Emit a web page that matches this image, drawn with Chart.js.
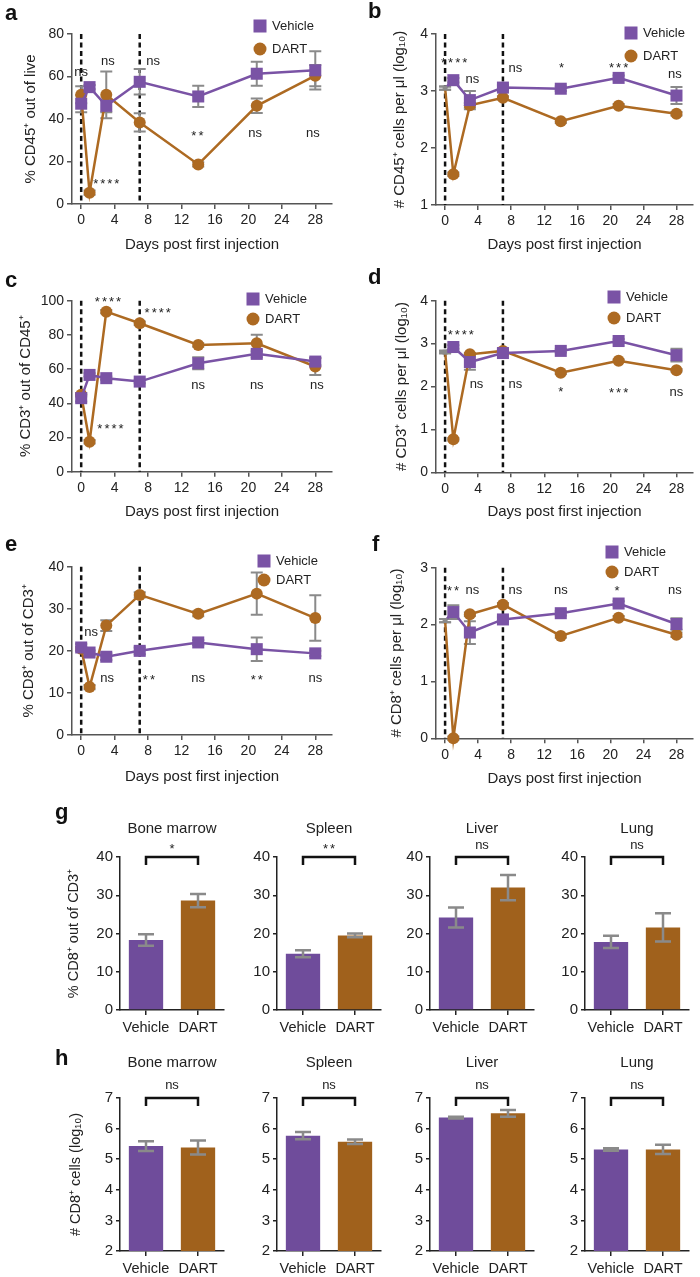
<!DOCTYPE html>
<html>
<head>
<meta charset="utf-8">
<script src="https://cdn.jsdelivr.net/npm/chart.js@4.4.0/dist/chart.umd.min.js"></script>
<style>
  body { margin: 0; background: #fff; }
  #fig { position: relative; width: 700px; height: 1277px; overflow: hidden; font-family: 'Liberation Sans', Arial, sans-serif; }
  #fig canvas { position: absolute; }
  .lbl { position: absolute; font-weight: bold; font-size: 22px; line-height: 22px; color: #111; z-index: 5; }
</style>
</head>
<body>
<div id="fig"></div>
<script>
Chart.defaults.font.family = "'Liberation Sans', Arial, Helvetica, sans-serif";
Chart.defaults.color = '#222';

// ---- time course data (a-f) ----
const days = [0, 1, 3, 7, 14, 21, 28];
const dayTicks = [0, 4, 8, 12, 16, 20, 24, 28];
const injectionDays = [0, 7];

const aVehicle = [47.2, 55.0, 46.2, 57.5, 50.6, 61.3, 62.9];
const aVehicleErr = [4, 1, 3, 6, 5, 5.7, 9];
const aDart = [51.4, 5.3, 51.4, 38.4, 18.6, 46.2, 60.4];
const aDartErr = [4, 1, 11, 4.3, 1, 3.4, 5];
const aTicks = [0, 20, 40, 60, 80];
const aSig = [[0, 61.3, 'ns'], [3.0, 10.8, '****'], [3.2, 66.8, 'ns'], [8.6, 66.8, 'ns'], [13.9, 33.3, '**'], [20.8, 32.9, 'ns'], [27.7, 32.9, 'ns']];

const bVehicle = [3.05, 3.19, 2.84, 3.06, 3.04, 3.23, 2.92];
const bVehicleErr = [0.03, 0.04, 0.16, 0.04, 0.04, 0.04, 0.15];
const bDart = [3.05, 1.54, 2.75, 2.88, 2.47, 2.74, 2.60];
const bDartErr = [0.03, 0.03, 0.04, 0.03, 0.03, 0.03, 0.03];
const bTicks = [1, 2, 3, 4];
const bSig = [[1.1, 3.53, '****'], [3.3, 3.18, 'ns'], [8.5, 3.38, 'ns'], [14.1, 3.44, '*'], [21, 3.44, '***'], [27.8, 3.27, 'ns']];

const cVehicle = [43, 56.6, 54.7, 52.7, 63.4, 68.9, 64.4];
const cVehicleErr = [2, 1, 1, 1, 3.5, 2, 2];
const cDart = [45, 17.5, 93.6, 86.8, 74.1, 75.1, 61.5];
const cDartErr = [1, 1, 1, 1, 1, 5, 5];
const cTicks = [0, 20, 40, 60, 80, 100];
const cSig = [[3.2, 100.8, '****'], [9.15, 94.6, '****'], [3.5, 26.3, '****'], [14, 49.7, 'ns'], [21, 49.7, 'ns'], [28.2, 49.7, 'ns']];

const dVehicle = [2.80, 2.92, 2.57, 2.78, 2.83, 3.06, 2.73];
const dVehicleErr = [0.03, 0.04, 0.18, 0.04, 0.04, 0.04, 0.15];
const dDart = [2.81, 0.77, 2.75, 2.83, 2.32, 2.60, 2.38];
const dDartErr = [0.03, 0.03, 0.03, 0.03, 0.03, 0.03, 0.03];
const dTicks = [0, 1, 2, 3, 4];
const dSig = [[1.9, 3.27, '****'], [3.8, 2.03, 'ns'], [8.5, 2.03, 'ns'], [14, 1.93, '*'], [21, 1.9, '***'], [28, 1.85, 'ns']];

const eVehicle = [20.8, 19.6, 18.6, 20.0, 22.0, 20.4, 19.4];
const eVehicleErr = [0.8, 0.5, 0.8, 0.8, 0.6, 2.8, 0.6];
const eDart = [20.5, 11.4, 26.0, 33.3, 28.8, 33.6, 27.8];
const eDartErr = [0.5, 0.5, 1.3, 0.6, 0.6, 5, 5.4];
const eTicks = [0, 10, 20, 30, 40];
const eSig = [[1.2, 24.2, 'ns'], [3.1, 13.1, 'ns'], [8.1, 13.8, '**'], [14, 13.1, 'ns'], [21, 13.8, '**'], [28, 13.1, 'ns']];

const fVehicle = [2.07, 2.22, 1.86, 2.09, 2.20, 2.37, 2.01];
const fVehicleErr = [0.03, 0.12, 0.2, 0.04, 0.04, 0.04, 0.1];
const fDart = [2.07, 0.0, 2.18, 2.35, 1.80, 2.12, 1.82];
const fDartErr = [0.03, 0.03, 0.03, 0.03, 0.03, 0.03, 0.04];
const fTicks = [0, 1, 2, 3];
const fSig = [[0.95, 2.64, '**'], [3.3, 2.59, 'ns'], [8.5, 2.59, 'ns'], [14, 2.59, 'ns'], [20.8, 2.64, '*'], [27.8, 2.59, 'ns']];

// ---- tissue data (g, h) ----
const tissues = ['Bone marrow', 'Spleen', 'Liver', 'Lung'];
const groups = ['Vehicle', 'DART'];
const gVehicle = [18.3, 14.7, 24.2, 17.8];
const gVehicleErr = [1.5, 0.9, 2.6, 1.6];
const gDart = [28.6, 19.5, 32.0, 21.6];
const gDartErr = [1.75, 0.5, 3.3, 3.7];
const gSig = ['*', '**', 'ns', 'ns'];
const gTicks = [0, 10, 20, 30, 40];
const hVehicle = [5.43, 5.77, 6.36, 5.32];
const hVehicleErr = [0.16, 0.12, 0.03, 0.04];
const hDart = [5.38, 5.57, 6.50, 5.32];
const hDartErr = [0.23, 0.07, 0.11, 0.15];
const hSig = ['ns', 'ns', 'ns', 'ns'];
const hTicks = [2, 3, 4, 5, 6, 7];

// colours
const PURPLE = '#7a53a5', BROWN = '#ad6a22';
const PURPLE_BAR = '#6f4c9b', BROWN_BAR = '#a0611c';
const ERR = '#8a8a8a', AXIS = '#555', BAR_AXIS = '#222';

const fig = document.getElementById('fig');

function addCanvas(b) {
  const c = document.createElement('canvas');
  c.width = b.w; c.height = b.h;
  c.style.left = b.x + 'px'; c.style.top = b.y + 'px';
  c.style.width = b.w + 'px'; c.style.height = b.h + 'px';
  fig.appendChild(c);
  return c;
}

function addLabel(txt, x, y) {
  const d = document.createElement('div');
  d.className = 'lbl';
  d.textContent = txt;
  d.style.left = x + 'px'; d.style.top = y + 'px';
  fig.appendChild(d);
}

function errBar(ctx, px, yScale, v, e, cap) {
  if (e == null) return;
  const t = yScale.getPixelForValue(v + e), b = yScale.getPixelForValue(v - e);
  ctx.beginPath();
  ctx.moveTo(px, t); ctx.lineTo(px, b);
  ctx.moveTo(px - cap, t); ctx.lineTo(px + cap, t);
  ctx.moveTo(px - cap, b); ctx.lineTo(px + cap, b);
  ctx.stroke();
}

function sigText(ctx, txt, x, y, size) {
  const stars = txt.indexOf('*') >= 0;
  ctx.font = size + "px 'Liberation Sans', Arial, sans-serif";
  ctx.letterSpacing = stars ? '2px' : '0px';
  ctx.textAlign = 'center';
  ctx.textBaseline = 'middle';
  ctx.fillStyle = '#222';
  ctx.fillText(txt, x + (stars ? 1 : 0), y + (stars ? 3 : -1));
  ctx.letterSpacing = '0px';
}

function axisBase(color, size) {
  return {
    grid: { drawOnChartArea: false, drawTicks: true, tickLength: 5, color: color, lineWidth: 1.5 },
    border: { display: true, color: color, width: 1.5 },
    ticks: { color: '#222', font: { size: size }, padding: 3, maxRotation: 0, autoSkip: false }
  };
}

// ---- line panels ----
const panels = [
  { letter: 'a', lx: 5, ly: 2, box: { x: 0, y: 0, w: 350, h: 260 }, area: { l: 72, t: 34, r: 332, b: 204 },
    veh: aVehicle, vehErr: aVehicleErr, dart: aDart, dartErr: aDartErr, ticks: aTicks, sig: aSig,
    yTitle: '% CD45⁺ out of live', yTitleX: 31, leg: [260, 26, 49], grayStart: false },
  { letter: 'b', lx: 368, ly: 0, box: { x: 350, y: 0, w: 350, h: 260 }, area: { l: 436, t: 34, r: 693, b: 205 },
    veh: bVehicle, vehErr: bVehicleErr, dart: bDart, dartErr: bDartErr, ticks: bTicks, sig: bSig,
    yTitle: '# CD45⁺ cells per μl (log₁₀)', yTitleX: 50, leg: [631, 33, 56], grayStart: true },
  { letter: 'c', lx: 5, ly: 269, box: { x: 0, y: 260, w: 350, h: 267 }, area: { l: 72, t: 300.7, r: 332, b: 471.7 },
    veh: cVehicle, vehErr: cVehicleErr, dart: cDart, dartErr: cDartErr, ticks: cTicks, sig: cSig,
    yTitle: '% CD3⁺ out of CD45⁺', yTitleX: 26, leg: [253, 299, 319], grayStart: false },
  { letter: 'd', lx: 368, ly: 266, box: { x: 350, y: 260, w: 350, h: 267 }, area: { l: 436, t: 300.7, r: 693, b: 472.3 },
    veh: dVehicle, vehErr: dVehicleErr, dart: dDart, dartErr: dDartErr, ticks: dTicks, sig: dSig,
    yTitle: '# CD3⁺ cells per μl (log₁₀)', yTitleX: 52, leg: [614, 297, 318], grayStart: true },
  { letter: 'e', lx: 5, ly: 533, box: { x: 0, y: 527, w: 350, h: 265 }, area: { l: 72, t: 566.7, r: 332, b: 735 },
    veh: eVehicle, vehErr: eVehicleErr, dart: eDart, dartErr: eDartErr, ticks: eTicks, sig: eSig,
    yTitle: '% CD8⁺ out of CD3⁺', yTitleX: 29, leg: [264, 561, 580], grayStart: false },
  { letter: 'f', lx: 372, ly: 533, box: { x: 350, y: 527, w: 350, h: 267 }, area: { l: 436, t: 567.7, r: 693, b: 738.3 },
    veh: fVehicle, vehErr: fVehicleErr, dart: fDart, dartErr: fDartErr, ticks: fTicks, sig: fSig,
    yTitle: '# CD8⁺ cells per μl (log₁₀)', yTitleX: 47, leg: [612, 552, 572], grayStart: true }
];

function linePanel(p) {
  const cv = addCanvas(p.box);
  const yW = p.area.l - p.box.x;
  const xH = p.box.y + p.box.h - p.area.b;
  const xAxis = axisBase(AXIS, 14);
  const yAxis = axisBase(AXIS, 14);

  const decor = {
    id: 'decor',
    beforeDatasetsDraw(chart) {
      const { ctx, chartArea: a, scales: { x, y } } = chart;
      ctx.save();
      ctx.strokeStyle = '#111';
      ctx.lineWidth = 2.5;
      ctx.setLineDash([5, 3.5]);
      injectionDays.forEach(d => {
        const px = x.getPixelForValue(d);
        ctx.beginPath(); ctx.moveTo(px, a.top); ctx.lineTo(px, a.bottom); ctx.stroke();
      });
      ctx.setLineDash([]);
      ctx.strokeStyle = ERR;
      ctx.lineWidth = 2;
      chart.data.datasets.forEach(ds => {
        ds.data.forEach((pt, i) => errBar(ctx, x.getPixelForValue(pt.x), y, pt.y, ds.errors[i], 6));
      });
      ctx.restore();
    },
    afterDraw(chart) {
      const { ctx, scales: { x, y } } = chart;
      ctx.save();
      p.sig.forEach(s => sigText(ctx, s[2], x.getPixelForValue(s[0]), y.getPixelForValue(s[1]), 13));
      // legend
      const lx = p.leg[0] - p.box.x, l1 = p.leg[1] - p.box.y, l2 = p.leg[2] - p.box.y;
      ctx.fillStyle = PURPLE;
      ctx.fillRect(lx - 6.5, l1 - 6.5, 13, 13);
      ctx.fillStyle = BROWN;
      ctx.beginPath(); ctx.arc(lx, l2, 6.5, 0, Math.PI * 2); ctx.fill();
      ctx.fillStyle = '#222';
      ctx.font = "13px 'Liberation Sans', Arial, sans-serif";
      ctx.textAlign = 'left'; ctx.textBaseline = 'middle';
      ctx.fillText(groups[0], lx + 12, l1);
      ctx.fillText(groups[1], lx + 12, l2);
      ctx.restore();
    }
  };

  const gray0 = (c, normal) => (p.grayStart && c.dataIndex === 0 ? ERR : normal);

  new Chart(cv, {
    type: 'line',
    data: {
      datasets: [
        {
          label: groups[0], data: days.map((d, i) => ({ x: d, y: p.veh[i] })), errors: p.vehErr,
          borderColor: PURPLE, borderWidth: 2.5, pointStyle: 'rect',
          pointRadius: c => (p.grayStart && c.dataIndex === 0 ? 3.5 : 8.5),
          pointBackgroundColor: c => gray0(c, PURPLE), pointBorderColor: c => gray0(c, PURPLE),
          pointBorderWidth: 0, clip: false
        },
        {
          label: groups[1], data: days.map((d, i) => ({ x: d, y: p.dart[i] })), errors: p.dartErr,
          borderColor: BROWN, borderWidth: 2.5, pointStyle: 'circle',
          pointRadius: c => (p.grayStart && c.dataIndex === 0 ? 0 : 6),
          pointBackgroundColor: BROWN, pointBorderColor: BROWN, pointBorderWidth: 0, clip: false
        }
      ]
    },
    options: {
      responsive: false, animation: false, events: [],
      layout: { autoPadding: false, padding: { left: 0, top: p.area.t - p.box.y, right: p.box.x + p.box.w - p.area.r, bottom: 0 } },
      plugins: { legend: { display: false }, tooltip: { enabled: false } },
      scales: {
        x: Object.assign(xAxis, {
          type: 'linear', min: -1.1, max: 30,
          afterBuildTicks: s => { s.ticks = dayTicks.map(v => ({ value: v })); },
          afterFit: s => { s.height = xH; },
          title: { display: true, text: 'Days post first injection', font: { size: 15 }, color: '#222', padding: { top: 0, bottom: 6 } }
        }),
        y: Object.assign(yAxis, {
          type: 'linear', min: p.ticks[0], max: p.ticks[p.ticks.length - 1],
          afterBuildTicks: s => { s.ticks = p.ticks.map(v => ({ value: v })); },
          afterFit: s => { s.width = yW; },
          title: { display: true, text: p.yTitle, font: { size: 15 }, color: '#222', padding: { top: p.yTitleX - 9, bottom: 0 } }
        })
      }
    },
    plugins: [decor]
  });
  addLabel(p.letter, p.lx, p.ly);
}

panels.forEach(linePanel);

// ---- bar panels ----
const barLefts = [120, 277, 430, 585];
const barRows = [
  { letter: 'g', lx: 55, ly: 801, top: 857, bottom: 1010, boxY: 805, boxH: 240, titleGap: 28, sigGap: 11,
    veh: gVehicle, vehErr: gVehicleErr, dart: gDart, dartErr: gDartErr, sig: gSig, ticks: gTicks,
    yTitle: '% CD8⁺ out of CD3⁺', yTitleX: 74 },
  { letter: 'h', lx: 55, ly: 1047, top: 1098, bottom: 1251, boxY: 1048, boxH: 229, titleGap: 35, sigGap: 12,
    veh: hVehicle, vehErr: hVehicleErr, dart: hDart, dartErr: hDartErr, sig: hSig, ticks: hTicks,
    yTitle: '# CD8⁺ cells (log₁₀)', yTitleX: 76 }
];

function barPanel(row, i) {
  const l = barLefts[i];
  const area = { l: l, t: row.top, r: l + 104, b: row.bottom };
  const box = { x: i === 0 ? l - 65 : l - 40, y: row.boxY, w: i === 0 ? 175 : 150, h: row.boxH };
  const cv = addCanvas(box);
  const yW = area.l - box.x;
  const xH = box.y + box.h - area.b;
  const xAxis = axisBase(BAR_AXIS, 14.5);
  const yAxis = axisBase(BAR_AXIS, 15);
  xAxis.grid.offset = false;
  xAxis.ticks.padding = 4;
  yAxis.grid.tickLength = 4;

  const decor = {
    id: 'bardecor',
    afterDatasetsDraw(chart) {
      const { ctx, scales: { x, y } } = chart;
      const errs = [row.vehErr[i], row.dartErr[i]];
      ctx.save();
      ctx.strokeStyle = ERR; ctx.lineWidth = 2.5;
      chart.data.datasets[0].data.forEach((v, j) => errBar(ctx, x.getPixelForValue(j), y, v, errs[j], 8));
      ctx.restore();
    },
    afterDraw(chart) {
      const { ctx, chartArea: a, scales: { x } } = chart;
      const x0 = x.getPixelForValue(0), x1 = x.getPixelForValue(1);
      const cx = (a.left + a.right) / 2;
      ctx.save();
      ctx.strokeStyle = '#111'; ctx.lineWidth = 2.5;
      ctx.beginPath();
      ctx.moveTo(x0, a.top + 8); ctx.lineTo(x0, a.top); ctx.lineTo(x1, a.top); ctx.lineTo(x1, a.top + 8);
      ctx.stroke();
      sigText(ctx, row.sig[i], (x0 + x1) / 2, a.top - row.sigGap, 13);
      ctx.font = "15px 'Liberation Sans', Arial, sans-serif";
      ctx.fillStyle = '#222'; ctx.textAlign = 'center'; ctx.textBaseline = 'middle';
      ctx.fillText(tissues[i], cx, a.top - row.titleGap);
      ctx.restore();
    }
  };

  new Chart(cv, {
    type: 'bar',
    data: {
      labels: groups,
      datasets: [{
        data: [row.veh[i], row.dart[i]],
        backgroundColor: [PURPLE_BAR, BROWN_BAR],
        borderWidth: 0, categoryPercentage: 1, barPercentage: 0.66
      }]
    },
    options: {
      responsive: false, animation: false, events: [],
      layout: { autoPadding: false, padding: { left: 0, top: area.t - box.y, right: box.x + box.w - area.r, bottom: 0 } },
      plugins: { legend: { display: false }, tooltip: { enabled: false } },
      scales: {
        x: Object.assign(xAxis, { afterFit: s => { s.height = xH; } }),
        y: Object.assign(yAxis, {
          type: 'linear', min: row.ticks[0], max: row.ticks[row.ticks.length - 1],
          afterBuildTicks: s => { s.ticks = row.ticks.map(v => ({ value: v })); },
          afterFit: s => { s.width = yW; },
          title: { display: i === 0, text: row.yTitle, font: { size: 14.5 }, color: '#222', padding: { top: row.yTitleX - box.x - 8.7, bottom: 0 } }
        })
      }
    },
    plugins: [decor]
  });
}

barRows.forEach(row => {
  tissues.forEach((t, i) => barPanel(row, i));
  addLabel(row.letter, row.lx, row.ly);
});
</script>
</body>
</html>
